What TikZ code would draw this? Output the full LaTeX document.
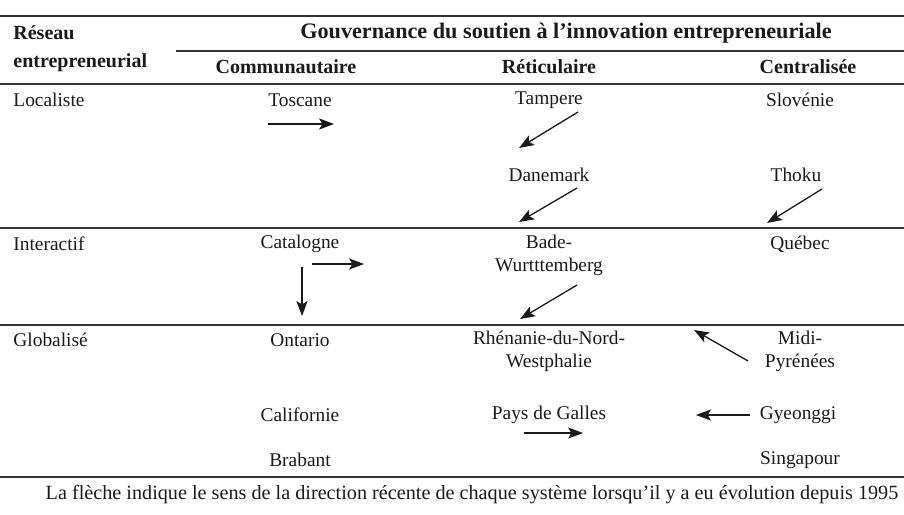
\documentclass[tikz,border=0pt]{standalone}
\usepackage{fontspec}
\setmainfont{Liberation Serif}
\usepackage{xcolor}
\definecolor{InkGrey}{HTML}{1A1A1A}
\definecolor{RuleGrey}{HTML}{333333}
\usepackage{tikz}
\usetikzlibrary{arrows.meta,positioning}
\newcommand\ColA{300}
\newcommand\ColB{549}
\newcommand\ColC{800}
\newcommand\LeftX{11}
\tikzstyle{cell}=[inner sep=1pt,text=InkGrey,align=center]
\tikzstyle{side}=[inner sep=1pt,text=InkGrey,anchor=west,align=left]
\tikzstyle{head}=[inner sep=1pt,text=InkGrey,font=\bfseries]
\tikzstyle{rule}=[draw=RuleGrey,line width=0.55pt]
\tikzstyle{trend}=[draw=InkGrey,line width=0.65pt,-{Stealth[length=7.5pt,width=5.6pt,inset=1.7pt]}]

\begin{document}
\begin{tikzpicture}[x=0.5pt,y=-0.5pt,font=\fontsize{9.7}{11.5}\selectfont]
      \useasboundingbox (0,0) rectangle (904,514);
      % rules
      \draw[rule] (0,16) -- (904,16);
      \draw[rule] (176,51) -- (904,51);
      \draw[rule] (0,84) -- (904,84);
      \draw[rule] (0,228) -- (904,228);
      \draw[rule] (0,325) -- (904,325);
      \draw[rule] (0,477) -- (904,477);
      % headings
      \node[side,font=\bfseries] (reseau) at (\LeftX,33) {Réseau};
      \node[side,font=\bfseries] (entre) at (\LeftX,63) {entrepreneurial};
      \node[head,font=\fontsize{11.1}{12}\selectfont\bfseries] (gouv) at (566,33) {Gouvernance du soutien à l’innovation entrepreneuriale};
      \node[head] (comm) at (\ColA-14,67) {Communautaire};
      \node[head] (reti) at (\ColB,67) {Réticulaire};
      \node[head] (cent) at (\ColC+8,67) {Centralisée};
      % row labels
      \node[side] (loc) at (\LeftX,100) {Localiste};
      \node[side] (inter) at (\LeftX,244) {Interactif};
      \node[side] (glob) at (\LeftX,340) {Globalisé};
      % localiste
      \node[cell] (toscane) at (\ColA,100) {Toscane};
      \node[cell] (tampere) at (\ColB,100) {Tampere};
      \node[cell] (slovenie) at (\ColC,100) {Slovénie};
      \node[cell] (danemark) at (\ColB,175) {Danemark};
      \node[cell] (thoku) at (\ColC-4,175) {Thoku};
      % interactif
      \node[cell] (catalogne) at (\ColA,244) {Catalogne};
      \node[cell] (bade) at (\ColB,255) {Bade-\\Wurtttemberg};
      \node[cell] (quebec) at (\ColC,244) {Québec};
      % globalise
      \node[cell] (ontario) at (\ColA,340) {Ontario};
      \node[cell] (rhenanie) at (\ColB,351) {Rhénanie-du-Nord-\\Westphalie};
      \node[cell] (midi) at (\ColC,351) {Midi-\\Pyrénées};
      \node[cell] (californie) at (\ColA,415) {Californie};
      \node[cell] (galles) at (\ColB,415) {Pays de Galles};
      \node[cell] (gyeonggi) at (\ColC-2,415) {Gyeonggi};
      \node[cell] (brabant) at (\ColA,460) {Brabant};
      \node[cell] (singapour) at (\ColC,460) {Singapour};
      % arrow ends
      \coordinate (tos-a) at (268,124);
      \coordinate (tos-b) at (334,124);
      \coordinate (tam-a) at (578,112);
      \coordinate (tam-b) at (519,148);
      \coordinate (dan-a) at (577,188);
      \coordinate (dan-b) at (519,222);
      \coordinate (tho-a) at (822,189);
      \coordinate (tho-b) at (767,223);
      \coordinate (cat-a) at (312,264);
      \coordinate (cat-b) at (364,264);
      \coordinate (catd-a) at (302,267);
      \coordinate (catd-b) at (302,316);
      \coordinate (bad-a) at (577,285);
      \coordinate (bad-b) at (520,319);
      \coordinate (mid-a) at (748,361);
      \coordinate (mid-b) at (694,330);
      \coordinate (gye-a) at (750,415);
      \coordinate (gye-b) at (696,415);
      \coordinate (gal-a) at (524,433);
      \coordinate (gal-b) at (583,433);
      \draw[trend] (tos-a) -- (tos-b);
      \draw[trend] (tam-a) -- (tam-b);
      \draw[trend] (dan-a) -- (dan-b);
      \draw[trend] (tho-a) -- (tho-b);
      \draw[trend] (cat-a) -- (cat-b);
      \draw[trend] (catd-a) -- (catd-b);
      \draw[trend] (bad-a) -- (bad-b);
      \draw[trend] (mid-a) -- (mid-b);
      \draw[trend] (gye-a) -- (gye-b);
      \draw[trend] (gal-a) -- (gal-b);
      % caption
      \node[cell,font=\fontsize{10.1}{12}\selectfont] (note) at (472,495) {La flèche indique le sens de la direction récente de chaque système lorsqu’il y a eu évolution depuis 1995};
   \end{tikzpicture}
\end{document}
